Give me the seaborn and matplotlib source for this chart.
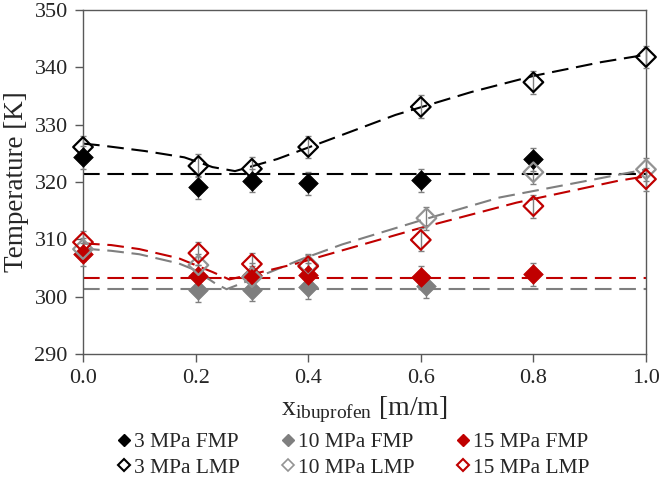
import numpy as np
import pandas as pd
import matplotlib
matplotlib.use("Agg")
import matplotlib.pyplot as plt
import seaborn as sns
from matplotlib.lines import Line2D

# ---------------- data ----------------
x_all = [0.0, 0.205, 0.30, 0.40, 0.60, 0.80, 1.0]
x_fmp = [0.0, 0.205, 0.30, 0.40, 0.60, 0.80]
x_10fmp = [0.205, 0.30, 0.40, 0.61]
x_10lmp = [0.0, 0.205, 0.30, 0.40, 0.61, 0.80, 1.0]

fmp_3 = [324.3, 319.1, 320.2, 319.8, 320.3, 324.0]
fmp_10 = [301.1, 301.2, 301.6, 301.8]
fmp_15 = [307.4, 303.6, 303.8, 303.8, 303.4, 303.9]

lmp_3 = [326.1, 322.8, 322.3, 326.1, 333.1, 337.4, 341.8]
lmp_10 = [308.3, 305.5, 303.4, 305.5, 313.7, 321.7, 322.2]
lmp_15 = [309.5, 307.6, 305.7, 305.3, 309.9, 315.8, 320.5]

err = 2.0

# FMP horizontal dashed levels
fmp_level_3 = 321.4
fmp_level_10 = 301.3
fmp_level_15 = 303.2
fmp_line_x = [0.0, 1.0]

# LMP model curves
curve_x_3 = [0.0, 0.03, 0.11, 0.18, 0.23, 0.27, 0.345, 0.43, 0.555, 0.69, 0.8, 0.92, 1.0]
curve_3 = [326.7, 326.4, 325.4, 324.3, 322.6, 321.9, 324.0, 327.1, 331.7, 335.7, 338.5, 340.9, 342.2]
curve_x_10 = [0.0, 0.05, 0.1, 0.17, 0.2, 0.235, 0.255, 0.31, 0.39, 0.46, 0.6, 0.74, 0.9, 1.0]
curve_10 = [308.4, 308.0, 307.4, 305.8, 304.6, 302.3, 301.3, 303.4, 306.6, 309.1, 313.3, 317.3, 320.3, 322.2]
curve_x_15 = [0.0, 0.05, 0.1, 0.17, 0.23, 0.26, 0.33, 0.38, 0.44, 0.6, 0.77, 0.95, 1.0]
curve_15 = [309.3, 309.0, 308.3, 306.7, 304.3, 303.0, 304.6, 305.8, 307.5, 312.0, 316.4, 320.2, 321.0]

labels = ["3 MPa FMP", "10 MPa FMP", "15 MPa FMP",
          "3 MPa LMP", "10 MPa LMP", "15 MPa LMP"]

BLACK = "#000000"
GRAY = "#7f7f7f"
GRAY_L = "#939393"
RED = "#c00000"
ERRC = "#808080"

# ---------------- style ----------------
sns.set_theme(style="white")
plt.rcParams["font.family"] = ["Liberation Serif", "DejaVu Serif"]
plt.rcParams["mathtext.fontset"] = "custom"
plt.rcParams["mathtext.rm"] = "Liberation Serif"
plt.rcParams["mathtext.it"] = "Liberation Serif:italic"

fig = plt.figure(figsize=(6.61, 4.78), dpi=100)
ax = fig.add_axes([83 / 661, 1 - 354 / 478, (646 - 83) / 661, (354 - 10) / 478])

dash = (0, (8, 3.7))

# dashed FMP levels
for lev, c in [(fmp_level_3, BLACK), (fmp_level_10, GRAY), (fmp_level_15, RED)]:
    sns.lineplot(x=fmp_line_x, y=[lev, lev], ax=ax, color=c, lw=1.5,
                 linestyle=dash, legend=False)

# LMP curves
for cx, cy, c in [(curve_x_3, curve_3, BLACK), (curve_x_10, curve_10, GRAY),
                  (curve_x_15, curve_15, RED)]:
    sns.lineplot(x=cx, y=cy, ax=ax, color=c, lw=1.5, linestyle=dash,
                 legend=False, sort=False)

# error bars
for xs, ys in [(x_fmp, fmp_3), (x_10fmp, fmp_10), (x_fmp, fmp_15),
               (x_all, lmp_3), (x_10lmp, lmp_10), (x_all, lmp_15)]:
    ax.errorbar(xs, ys, yerr=err, fmt="none", ecolor=ERRC, elinewidth=1,
                capsize=2.5, capthick=1, zorder=3, clip_on=False)

ms = 100
# filled FMP markers
sns.scatterplot(x=x_fmp, y=fmp_3, ax=ax, marker="D", s=ms, color=BLACK,
                edgecolor=BLACK, linewidth=0.5, zorder=4, clip_on=False)
sns.scatterplot(x=x_10fmp, y=fmp_10, ax=ax, marker="D", s=ms, color=GRAY,
                edgecolor=GRAY, linewidth=0.5, zorder=4, clip_on=False)
sns.scatterplot(x=x_fmp, y=fmp_15, ax=ax, marker="D", s=ms, color=RED,
                edgecolor=RED, linewidth=0.5, zorder=4, clip_on=False)
# open LMP markers
sns.scatterplot(x=x_all, y=lmp_3, ax=ax, marker="D", s=ms, facecolor="none",
                edgecolor=BLACK, linewidth=1.6, zorder=5, clip_on=False)
sns.scatterplot(x=x_10lmp, y=lmp_10, ax=ax, marker="D", s=ms, facecolor="none",
                edgecolor=GRAY_L, linewidth=1.6, zorder=5, clip_on=False)
sns.scatterplot(x=x_all, y=lmp_15, ax=ax, marker="D", s=ms, facecolor="none",
                edgecolor=RED, linewidth=1.6, zorder=5, clip_on=False)

# axes
ax.set_xlim(0, 1.0)
ax.set_ylim(290, 350)
ax.set_xticks(np.arange(0, 1.01, 0.2))
ax.set_xticklabels([f"{v:.1f}" for v in np.arange(0, 1.01, 0.2)])
ax.set_yticks(np.arange(290, 351, 10))
ax.tick_params(axis="both", which="major", labelsize=16, length=6, width=1,
               color="#595959", direction="out", bottom=True, left=True,
               pad=5)
for sp in ax.spines.values():
    sp.set_color("#595959")
    sp.set_linewidth(1)

ax.set_ylabel("Temperature [K]", fontsize=19.5, labelpad=4)
ax.set_xlabel(r"x$_{\mathregular{ibuprofen}}$ [m/m]", fontsize=20, labelpad=4)

# legend
handles = [
    Line2D([], [], marker="D", ls="none", color=BLACK, markersize=6),
    Line2D([], [], marker="D", ls="none", markerfacecolor="none",
           markeredgecolor=BLACK, markeredgewidth=1.5, markersize=6),
    Line2D([], [], marker="D", ls="none", color=GRAY, markersize=6),
    Line2D([], [], marker="D", ls="none", markerfacecolor="none",
           markeredgecolor=GRAY_L, markeredgewidth=1.2, markersize=6),
    Line2D([], [], marker="D", ls="none", color=RED, markersize=6),
    Line2D([], [], marker="D", ls="none", markerfacecolor="none",
           markeredgecolor=RED, markeredgewidth=1.5, markersize=6),
]
leg_labels = [labels[0], labels[3], labels[1], labels[4], labels[2], labels[5]]
fig.legend(handles, leg_labels, ncol=3, loc="center",
           bbox_to_anchor=(354 / 661, 1 - 455 / 478), frameon=False,
           fontsize=15.5, handlelength=0.5, handletextpad=0.2,
           columnspacing=2.0, labelspacing=0.25)

fig.savefig("out.png", dpi=100)
